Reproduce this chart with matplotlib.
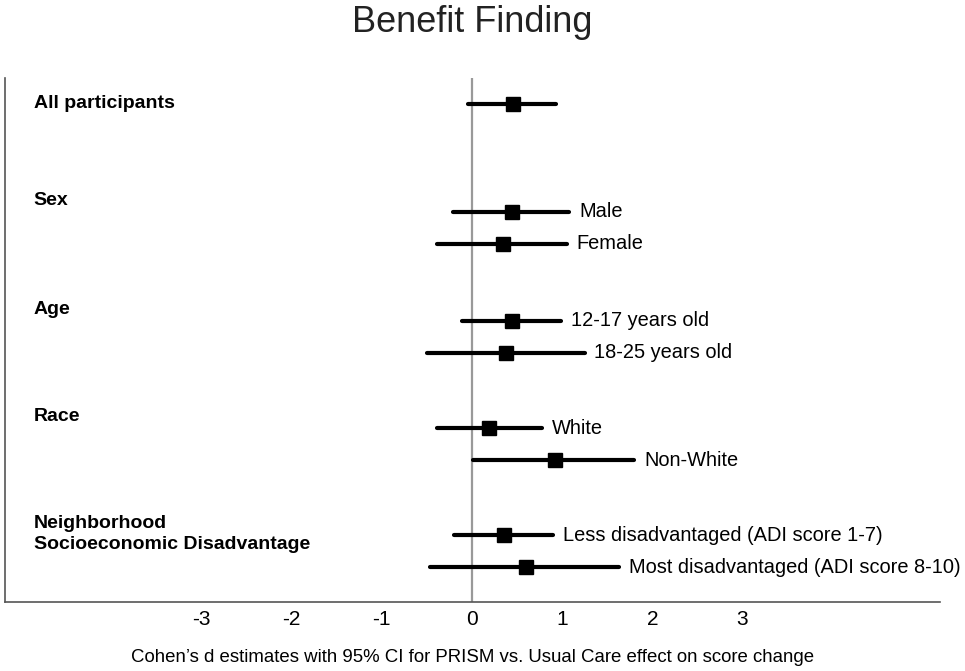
import matplotlib.pyplot as plt

plt.rcParams['font.family'] = ['Liberation Sans', 'DejaVu Sans']

# subgroup labels, effect sizes and 95% CI
labels = ['', 'Male', 'Female', '12-17 years old', '18-25 years old',
          'White', 'Non-White', 'Less disadvantaged (ADI score 1-7)',
          'Most disadvantaged (ADI score 8-10)']
est = [0.45, 0.44, 0.34, 0.44, 0.38, 0.19, 0.92, 0.35, 0.60]
lo = [-0.04, -0.21, -0.39, -0.11, -0.50, -0.39, 0.01, -0.20, -0.47]
hi = [0.93, 1.08, 1.05, 0.99, 1.25, 0.78, 1.80, 0.90, 1.63]

groups = ['All participants', 'Sex', 'Age', 'Race',
          'Neighborhood\nSocioeconomic Disadvantage']
group_pos = [0, 3.03, 6.41, 9.75, 13.44]

# row positions (layout only)
rows = [0, 3.375, 4.375, 6.78, 7.78, 10.125, 11.125, 13.47, 14.47]

fig = plt.figure(figsize=(9.65, 6.71), dpi=100)
ax = fig.add_axes([0.0052, 0.1028, 0.9688, 0.781])

ax.axvline(0, color='#999999', lw=1.6, zorder=1)

for y, e, l, h, lab in zip(rows, est, lo, hi, labels):
    ax.plot([l, h], [y, y], color='black', lw=3, solid_capstyle='round', zorder=2)
    ax.plot(e, y, marker='s', color='black', markersize=9.5, zorder=3)
    if lab:
        ax.annotate(lab, xy=(h, y), xytext=(7, 0), textcoords='offset points',
                    va='center', ha='left', fontsize=14.4)

for y, g in zip(group_pos, groups):
    ax.text(-4.86, y, g, fontsize=14, fontweight='bold', va='center', ha='left',
            linespacing=1.35)

ax.set_xlim(-5.18, 5.19)
ax.set_ylim(15.56, -0.81)
ax.set_xticks([-3, -2, -1, 0, 1, 2, 3])
ax.set_xticklabels(['-3', '-2', '-1', '0', '1', '2', '3'], fontsize=15)
ax.tick_params(axis='x', length=0, pad=6)
ax.set_yticks([])
for s in ['top', 'right']:
    ax.spines[s].set_visible(False)
for s in ['left', 'bottom']:
    ax.spines[s].set_color('#555555')
    ax.spines[s].set_linewidth(1.2)

ax.set_xlabel("Cohen’s d estimates with 95% CI for PRISM vs. Usual Care effect on score change",
              fontsize=13.4, labelpad=14)
fig.text(0.489, 0.967, 'Benefit Finding', fontsize=26, ha='center', va='center',
         color='#222222')

fig.savefig('out.png', dpi=100)
